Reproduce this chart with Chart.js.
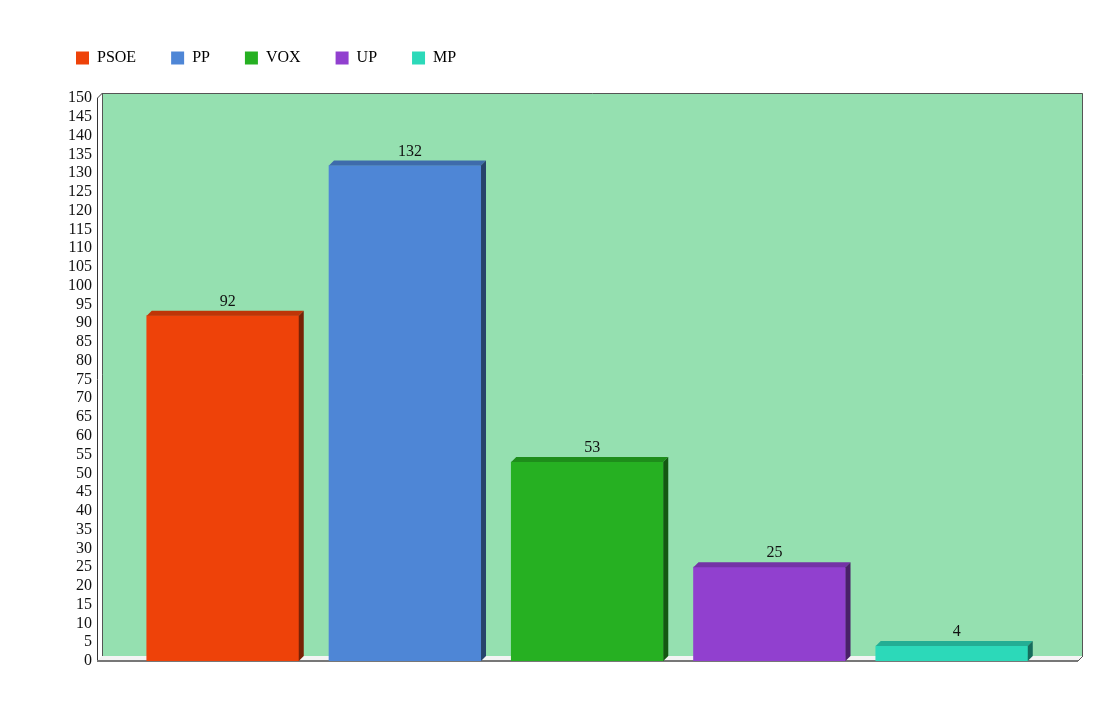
<!DOCTYPE html>
<html lang="es">
<head>
<meta charset="UTF-8">
<title>Escaños</title>
<style>
  body { margin: 0; background: #fff; }
  .wrap { width: 1095px; height: 713px; position: relative; }
</style>
</head>
<body>
<div class="wrap"><canvas id="chart"></canvas></div>
<script src="https://cdn.jsdelivr.net/npm/chart.js"></script>
<script>
// datos
const partidos = ['PSOE', 'PP', 'VOX', 'UP', 'MP'];
const escanos = [92, 132, 53, 25, 4];
const colores = ['#ee4209', '#4e86d6', '#26b022', '#9140cf', '#2cd9b9'];
const yMax = 150;
const yStep = 5;

const DEPTH = 5; // profundidad del efecto 3D
const FUENTE = '"Liberation Serif", serif';

function shade(hex, f) {
  const n = parseInt(hex.slice(1), 16);
  const r = Math.round(((n >> 16) & 255) * f);
  const g = Math.round(((n >> 8) & 255) * f);
  const b = Math.round((n & 255) * f);
  return 'rgb(' + r + ',' + g + ',' + b + ')';
}

// más espacio bajo la leyenda
const margenLeyenda = {
  id: 'margenLeyenda',
  beforeInit(chart) {
    const fit = chart.legend.fit;
    chart.legend.fit = function () {
      fit.call(this);
      this.height += 22;
    };
  }
};

// fondo, suelo y ejes con perspectiva
const fondo3d = {
  id: 'fondo3d',
  beforeDatasetsDraw(chart) {
    const { ctx, chartArea: a } = chart;
    ctx.save();
    // pared del fondo
    ctx.fillStyle = '#95e0b0';
    ctx.fillRect(a.left + DEPTH, a.top - DEPTH, a.right - a.left - DEPTH, a.bottom - a.top);
    ctx.strokeStyle = '#555';
    ctx.lineWidth = 1;
    ctx.beginPath();
    ctx.moveTo(a.left + DEPTH + 0.5, a.bottom - DEPTH);
    ctx.lineTo(a.left + DEPTH + 0.5, a.top - DEPTH + 0.5);
    ctx.lineTo(a.right - 0.5, a.top - DEPTH + 0.5);
    ctx.lineTo(a.right - 0.5, a.bottom - DEPTH);
    ctx.stroke();
    // suelo
    ctx.fillStyle = '#f4f4f4';
    ctx.beginPath();
    ctx.moveTo(a.left, a.bottom);
    ctx.lineTo(a.left + DEPTH, a.bottom - DEPTH);
    ctx.lineTo(a.right, a.bottom - DEPTH);
    ctx.lineTo(a.right - DEPTH, a.bottom);
    ctx.closePath();
    ctx.fill();
    // eje y
    ctx.strokeStyle = '#333';
    ctx.beginPath();
    ctx.moveTo(a.left + 0.5, a.bottom);
    ctx.lineTo(a.left + 0.5, a.top);
    ctx.lineTo(a.left + DEPTH + 0.5, a.top - DEPTH);
    ctx.stroke();
    // línea del suelo
    ctx.strokeStyle = '#777';
    ctx.lineWidth = 2;
    ctx.beginPath();
    ctx.moveTo(a.left, a.bottom);
    ctx.lineTo(a.right - DEPTH, a.bottom);
    ctx.stroke();
    ctx.lineWidth = 1;
    ctx.strokeStyle = '#555';
    ctx.beginPath();
    ctx.moveTo(a.right - DEPTH, a.bottom);
    ctx.lineTo(a.right, a.bottom - DEPTH);
    ctx.stroke();
    ctx.restore();
  },
  afterDatasetsDraw(chart) {
    const { ctx } = chart;
    const meta = chart.getDatasetMeta(0);
    ctx.save();
    meta.data.forEach((bar, i) => {
      const col = colores[i];
      const l = bar.x - bar.width / 2;
      const r = bar.x + bar.width / 2;
      const t = bar.y;
      const b = bar.base;
      // cara superior
      ctx.fillStyle = shade(col, 0.8);
      ctx.beginPath();
      ctx.moveTo(l, t);
      ctx.lineTo(l + DEPTH, t - DEPTH);
      ctx.lineTo(r + DEPTH, t - DEPTH);
      ctx.lineTo(r, t);
      ctx.closePath();
      ctx.fill();
      // cara lateral
      ctx.fillStyle = shade(col, 0.5);
      ctx.beginPath();
      ctx.moveTo(r, t);
      ctx.lineTo(r + DEPTH, t - DEPTH);
      ctx.lineTo(r + DEPTH, b - DEPTH);
      ctx.lineTo(r, b);
      ctx.closePath();
      ctx.fill();
      // etiqueta
      ctx.fillStyle = '#111';
      ctx.font = '16px ' + FUENTE;
      ctx.textAlign = 'center';
      ctx.textBaseline = 'bottom';
      ctx.fillText(String(escanos[i]), bar.x + DEPTH, t - DEPTH - 1);
    });
    ctx.restore();
  }
};

new Chart(document.getElementById('chart'), {
  type: 'bar',
  data: {
    datasets: [{
      data: escanos.map((v, i) => ({ x: i, y: v })),
      backgroundColor: colores,
      borderWidth: 0,
      barThickness: 152
    }]
  },
  options: {
    responsive: true,
    maintainAspectRatio: false,
    animation: false,
    layout: { padding: { left: 41, right: 12, top: 15, bottom: 52 } },
    scales: {
      x: {
        type: 'linear',
        offset: false,
        min: -0.69,
        max: 4.72,
        display: false
      },
      y: {
        min: 0,
        max: yMax,
        grid: { display: false, drawTicks: false },
        border: { display: false },
        afterFit(scale) { scale.width = 56; },
        ticks: {
          stepSize: yStep,
          autoSkip: false,
          padding: 5,
          color: '#111',
          font: { family: FUENTE, size: 16 }
        }
      }
    },
    plugins: {
      legend: {
        align: 'start',
        labels: {
          boxWidth: 13,
          boxHeight: 13,
          padding: 35,
          color: '#111',
          font: { family: FUENTE, size: 16 },
          generateLabels() {
            return partidos.map((p, i) => ({
              text: p,
              fillStyle: colores[i],
              strokeStyle: colores[i],
              lineWidth: 0,
              datasetIndex: 0,
              index: i
            }));
          }
        }
      },
      tooltip: { enabled: false }
    }
  },
  plugins: [margenLeyenda, fondo3d]
});
</script>
</body>
</html>
